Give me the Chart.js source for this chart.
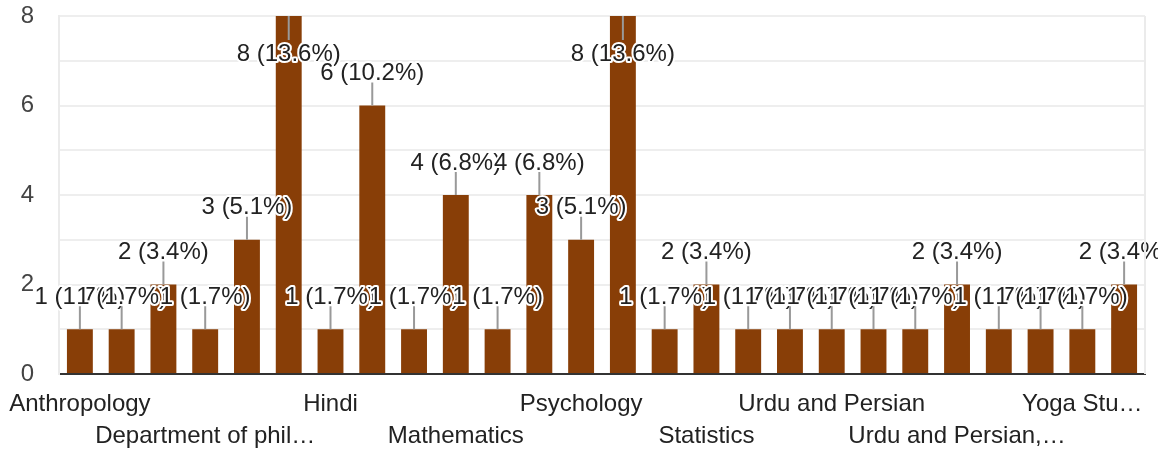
<!DOCTYPE html>
<html>
<head>
<meta charset="utf-8">
<script src="https://cdn.jsdelivr.net/npm/chart.js@4.4.0/dist/chart.umd.min.js"></script>
<style>
  html, body { margin: 0; padding: 0; background: #fff; }
  #wrap { width: 1158px; height: 454px; position: relative; }
</style>
</head>
<body>
<div id="wrap"><canvas id="deptChart"></canvas></div>
<script>
// departments as they appear (hidden ones are in alphabetical order between the shown ones)
const departments = [
  'Anthropology', 'Commerce', 'Computer Science', 'Department of phil…', 'Economics', 'English',
  'Hindi', 'History', 'Law', 'Mathematics', 'Philosophy', 'Political Science',
  'Psychology', 'Sanskrit', 'Sociology', 'Statistics', 'Telugu', 'Urdu',
  'Urdu and Persian', 'Urdu and Persian (MA)', 'Urdu and Persian (PhD)', 'Urdu and Persian,…', 'Visual Arts', 'Women Studies',
  'Yoga Stu…', 'Zoology'
];
const responses = [1, 1, 2, 1, 3, 8, 1, 6, 1, 4, 1, 4, 3, 8, 1, 2, 1, 1, 1, 1, 1, 2, 1, 1, 1, 2];
const yTicks = [0, 2, 4, 6, 8];

const total = responses.reduce((a, b) => a + b, 0);
const FONT = '"Liberation Sans", Arial, sans-serif';

const leaderLabels = {
  id: 'leaderLabels',
  afterDatasetsDraw(chart) {
    const ctx = chart.ctx;
    const meta = chart.getDatasetMeta(0);
    const top = chart.chartArea.top;
    ctx.save();
    ctx.font = '24px ' + FONT;
    ctx.textAlign = 'center';
    ctx.textBaseline = 'middle';
    meta.data.forEach((bar, i) => {
      const v = responses[i];
      const txt = v + ' (' + (v / total * 100).toFixed(1) + '%)';
      let y1, ty;
      if (bar.y - 36 < top) { // no room above, put it inside
        y1 = bar.y + 24; ty = y1 + 14;
      } else {
        y1 = bar.y - 23; ty = y1 - 9;
      }
      ctx.strokeStyle = '#999';
      ctx.lineWidth = 2;
      ctx.beginPath();
      ctx.moveTo(bar.x, bar.y);
      ctx.lineTo(bar.x, y1);
      ctx.stroke();
      ctx.lineJoin = 'round';
      ctx.strokeStyle = '#fff';
      ctx.lineWidth = 4;
      ctx.strokeText(txt, bar.x, ty);
      ctx.fillStyle = '#222';
      ctx.fillText(txt, bar.x, ty);
    });
    // light side borders of the plot
    const a = chart.chartArea;
    ctx.strokeStyle = '#ebebeb';
    ctx.lineWidth = 2;
    ctx.beginPath();
    ctx.moveTo(a.right, a.top); ctx.lineTo(a.right, a.bottom);
    ctx.stroke();
    ctx.restore();
  }
};

new Chart(document.getElementById('deptChart'), {
  type: 'bar',
  data: {
    labels: departments,
    datasets: [{
      data: responses,
      backgroundColor: '#883e07',
      barPercentage: 0.62,
      categoryPercentage: 1.0
    }]
  },
  options: {
    responsive: true,
    maintainAspectRatio: false,
    animation: false,
    layout: { padding: { top: 16, right: 13, bottom: 0, left: 0 } },
    plugins: { legend: { display: false }, tooltip: { enabled: false } },
    scales: {
      x: {
        grid: { display: false, drawTicks: false },
        border: { color: '#333', width: 2 },
        afterFit(scale) {
          scale.height = 80;
          scale.paddingLeft = 0;
          scale.paddingRight = 0;
        },
        ticks: {
          autoSkip: false,
          maxRotation: 0,
          padding: 14,
          color: '#222',
          font: { family: FONT, size: 24, lineHeight: 1.33 },
          callback(val, i) {
            if (i % 6 === 0) return departments[i];
            if (i % 6 === 3) return ['', departments[i]];
            return '';
          }
        }
      },
      y: {
        min: 0,
        max: 8,
        afterFit(scale) {
          scale.width = 59;
          scale.paddingTop = 0;
          scale.paddingBottom = 0;
        },
        border: { color: '#ebebeb', width: 2 },
        grid: { color: '#eeeeee', lineWidth: 2, drawTicks: false },
        ticks: {
          stepSize: 1,
          padding: 25,
          color: '#444',
          font: { family: FONT, size: 24 },
          callback(val) { return yTicks.includes(val) ? val : ''; }
        }
      }
    }
  },
  plugins: [leaderLabels]
});
</script>
</body>
</html>
